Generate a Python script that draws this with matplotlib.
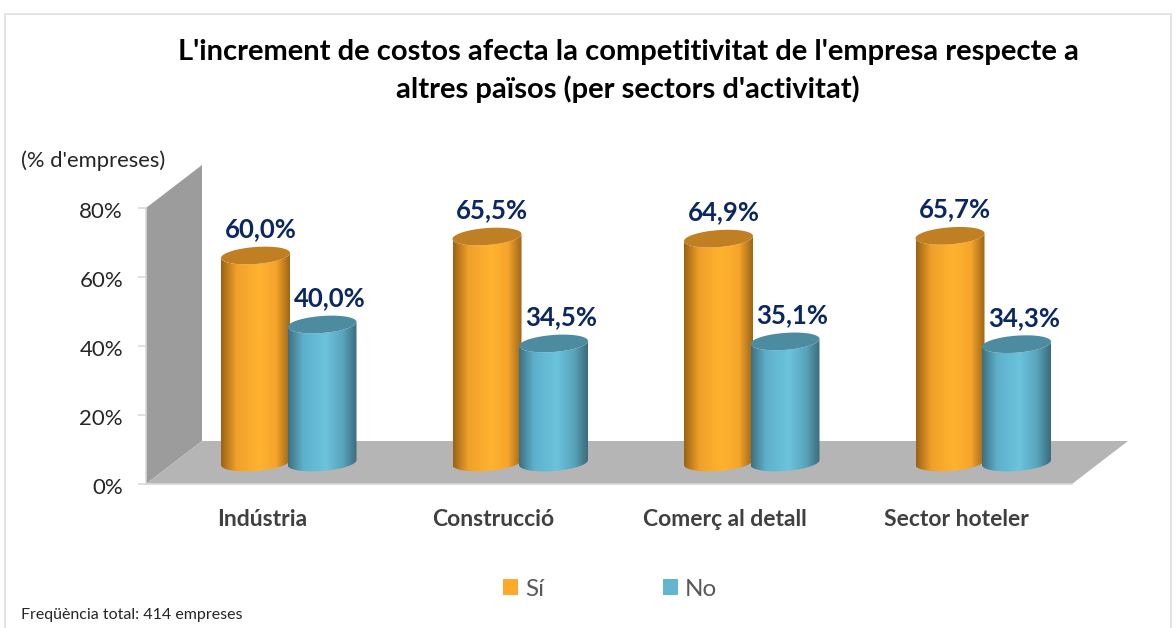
import numpy as np
import matplotlib
matplotlib.use("Agg")
import matplotlib.pyplot as plt
from matplotlib.colors import LinearSegmentedColormap
from matplotlib.patches import Patch, Polygon, Rectangle
from matplotlib.transforms import ScaledTranslation

plt.rcParams["font.family"] = ["Lato", "DejaVu Sans"]

# ---------------------------
# DATA
# ---------------------------
categories = ["Indústria", "Construcció", "Comerç al detall", "Sector hoteler"]
si_values = [60.0, 65.5, 64.9, 65.7]
no_values = [40.0, 34.5, 35.1, 34.3]
y_ticks = [0, 20, 40, 60, 80]
series_names = ["Sí", "No"]

title = "L'increment de costos afecta la competitivitat de l'empresa respecte a\naltres països (per sectors d'activitat)"

# ---------------------------
# LAYOUT (pixels of the 1176x628 figure)
# ---------------------------
W, H = 1176, 628
LEFT, RIGHT, BOTTOM, TOP = 146, 1072, 484, 208
PX_X = (RIGHT - LEFT) / 4      # px per category
PX_Y = (BOTTOM - TOP) / 80     # px per percent
DEPTH_X = 56 / PX_X
DEPTH_Y = 43 / PX_Y
BAR_W = 69 / PX_X
BAR_STEP = 66.5 / PX_X
BAR_SHIFT = 27 / PX_X
ELL_B = 8.5 / PX_Y
ELL_TILT = 2.5 / PX_Y

orange_cmap = LinearSegmentedColormap.from_list(
    "orange", [(0, "#9a6214"), (0.22, "#f0a02a"), (0.55, "#ffb32f"), (0.8, "#f5a52b"), (1, "#9c6516")])
blue_cmap = LinearSegmentedColormap.from_list(
    "blue", [(0, "#3e6f80"), (0.22, "#5eb1cc"), (0.55, "#6bc3dc"), (0.8, "#58a4bc"), (1, "#3c6b7b")])

fig = plt.figure(figsize=(W / 100, H / 100), dpi=100)
fig.add_artist(Rectangle((5 / W, -0.01), (W - 10) / W, 1 - 14 / H + 0.01, transform=fig.transFigure,
                         fill=False, ec="#dedede", lw=1.2))
ax = fig.add_axes([LEFT / W, 1 - BOTTOM / H, (RIGHT - LEFT) / W, (BOTTOM - TOP) / H])
xlim = (-0.5, len(categories) - 0.5)
ax.set_xlim(xlim)
ax.set_ylim(0, 80)
ax.patch.set_alpha(0)


# ---------------------------
# WALL AND FLOOR
# ---------------------------
wall = [(xlim[0], 0), (xlim[0] + DEPTH_X, DEPTH_Y), (xlim[0] + DEPTH_X, 80 + DEPTH_Y), (xlim[0], 80)]
floor = [(xlim[0], 0), (xlim[1], 0), (xlim[1] + DEPTH_X, DEPTH_Y), (xlim[0] + DEPTH_X, DEPTH_Y)]
ax.add_patch(Polygon(wall, fc="#9c9c9c", ec="none", clip_on=False, zorder=1))
ax.add_patch(Polygon(floor, fc="#b5b5b5", ec="none", clip_on=False, zorder=1))


# ---------------------------
# CYLINDERS
# ---------------------------
def cylinder(cx, value, cmap, top_color, z):
    base = DEPTH_Y / 2
    a = BAR_W / 2
    t = np.linspace(0, 2 * np.pi, 120)
    ex = a * np.cos(t)
    ey = ELL_B * np.sin(t) + ELL_TILT * np.cos(t)
    # body outline: lower half of base ellipse plus upper ellipse edge
    lower = np.linspace(np.pi, 2 * np.pi, 60)
    bx = cx + a * np.cos(lower)
    by = base + ELL_B * np.sin(lower) + ELL_TILT * np.cos(lower)
    tx = bx[::-1]
    ty = base + value + (by[::-1] - base)
    body = Polygon(np.column_stack([np.r_[bx, tx], np.r_[by, ty]]), fc="none", ec="none", zorder=z)
    ax.add_patch(body)
    im = ax.imshow(np.linspace(0, 1, 256)[None, :], cmap=cmap, aspect="auto", interpolation="bilinear",
                   extent=(cx - a, cx + a, 0, 80), zorder=z)
    im.set_clip_path(body)
    ax.add_patch(Polygon(np.column_stack([cx + ex, base + value + ey]), fc=top_color, ec="none", zorder=z + 0.1))


for i in range(len(categories)):
    center = i + BAR_SHIFT
    xa = center - BAR_STEP / 2
    xb = center + BAR_STEP / 2
    cylinder(xa, si_values[i], orange_cmap, "#c07f22", 2 + i)
    cylinder(xb, no_values[i], blue_cmap, "#4d8ba0", 2.5 + i)
    for x, v, dx in [(xa, si_values[i], 3.6), (xb, no_values[i], 5.4)]:
        label = f"{v:.1f}%".replace(".", ",")
        ax.annotate(label, (x, v + DEPTH_Y / 2), xytext=(dx, 19), textcoords="offset points",
                    ha="center", va="center", fontsize=18.5, fontweight="bold", color="#0a2763", zorder=20)

ax.set_xlim(xlim)
ax.set_ylim(0, 80)

# ---------------------------
# AXES
# ---------------------------
for s in ["top", "right"]:
    ax.spines[s].set_visible(False)
for s in ["left", "bottom"]:
    ax.spines[s].set_color("#d9d9d9")
    ax.spines[s].set_linewidth(1.2)
    ax.spines[s].set_zorder(1.5)
ax.set_yticks(y_ticks)
ax.set_yticklabels([f"{v}%" for v in y_ticks], fontsize=16, color="#262626")
ax.tick_params(axis="y", length=6, width=1.2, color="#d9d9d9", pad=10.5)
for tl in ax.get_yticklabels():
    tl.set_transform(tl.get_transform() + ScaledTranslation(0, -1.5 / 72, fig.dpi_scale_trans))
ax.set_xticks(range(len(categories)))
ax.set_xticklabels(categories, fontsize=16.5, fontweight="bold", color="#404040")
ax.tick_params(axis="x", length=0, pad=18)

# ---------------------------
# TEXTS AND LEGEND
# ---------------------------
fig.text(628 / W, 1 - 71 / H, title, ha="center", va="center", fontsize=21, fontweight="bold",
         color="black", linespacing=1.42)
fig.text(21 / W, 1 - 161 / H, "(% d'empreses)", ha="left", va="center", fontsize=15.8, color="#262626")
fig.text(21 / W, 1 - 615 / H, "Freqüència total: 414 empreses", ha="left", va="center", fontsize=11.5,
         color="#262626")

handles = [Patch(fc="#ffa92b", ec="none"), Patch(fc="#62b6d0", ec="none")]
fig.legend(handles, series_names, loc="center", bbox_to_anchor=(610 / W, 1 - 589 / H), ncols=2, frameon=False,
           fontsize=17.5, labelcolor="#595959", handlelength=0.6, handleheight=0.6, handletextpad=0.3,
           columnspacing=4.9)

fig.savefig("out.png", dpi=100, facecolor="white")
